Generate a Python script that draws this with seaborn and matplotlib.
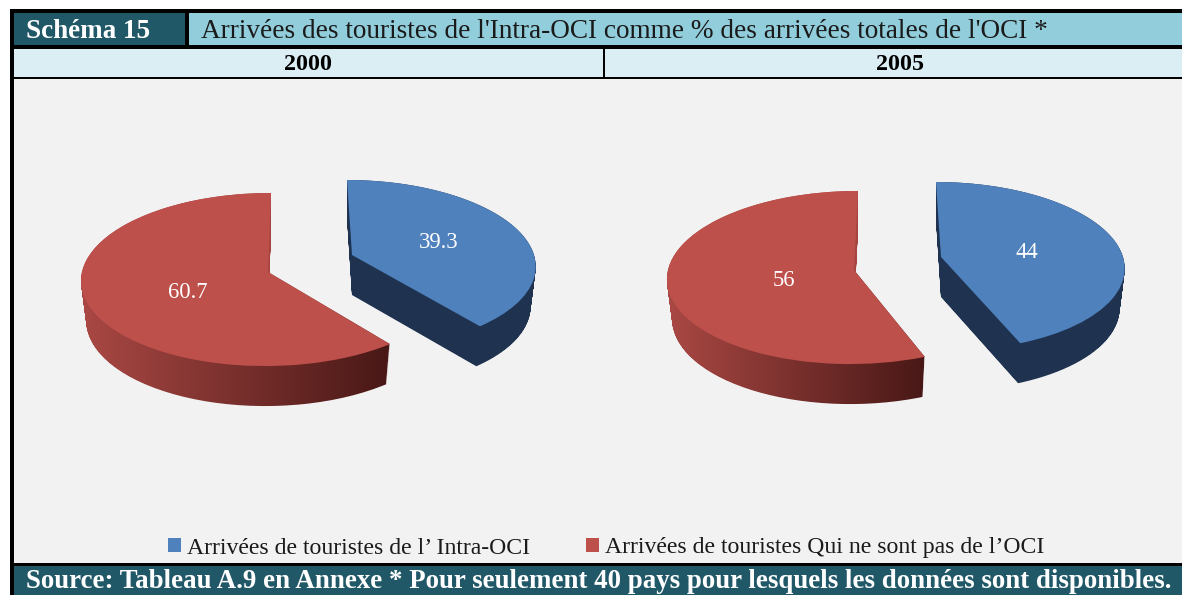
import numpy as np
import matplotlib
matplotlib.use("Agg")
import matplotlib.pyplot as plt
import seaborn as sns
from matplotlib.patches import Rectangle, Patch
from matplotlib.path import Path
from matplotlib.transforms import Transform, Affine2D

# ---- data ----
years = ["2000", "2005"]
intra_oci = [39.3, 44]
non_oci = [60.7, 56]
series_labels = ["Arrivées de touristes de l’ Intra-OCI",
                 "Arrivées de touristes Qui ne sont pas de l’OCI"]
badge = "Schéma 15"
title = "Arrivées des touristes de l'Intra-OCI comme % des arrivées totales de l'OCI *"
source = "Source: Tableau A.9 en Annexe * Pour seulement 40 pays pour lesquels les données sont disponibles."

# ---- style / layout (pixels) ----
W, H = 1182, 595
BLUE, RED = "#4F81BD", "#BE504C"
TEAL, CYAN, PALE, PANEL = "#215868", "#92CDDC", "#DAEEF3", "#F2F2F2"
SERIF = "Liberation Serif"
# apex pixel of each wedge and lean of its straight edge
layout = {
    "2000": {"blue": (352, 255, -5), "red": (268, 272, 3),
             "lab_blue": (439, 243), "lab_red": (188, 292), "head": 308},
    "2005": {"blue": (941, 257, -5), "red": (854, 270, 4),
             "lab_blue": (1027, 252), "lab_red": (784, 280), "head": 900},
}
# horizontal radius, vertical radius, perspective strength
disc = {"blue": (182.0, 83.25, 0.11), "red": (186.0, 85.9, 0.0867)}
DEPTH = 40

sns.set_theme(style="white")
plt.rcParams["font.family"] = [SERIF, "DejaVu Sans"]
palette = sns.color_palette([BLUE, RED])


class Projection(Transform):
    """Maps a unit pie wedge onto the tilted disc, in pixel coordinates."""
    input_dims = output_dims = 2

    def __init__(self, apex, shape, drop=0.0, shrink=1.0):
        super().__init__()
        self.apex, self.disc_shape, self.drop, self.shrink = apex, shape, drop, shrink

    def transform_non_affine(self, v):
        ax_, ay_, lean = self.apex
        rx, ry, pk = self.disc_shape
        v = np.asarray(v, float)
        f = 1.0 / (1.0 + pk * v[:, 1])
        x = (rx * v[:, 0] * f + lean * v[:, 1]) * self.shrink
        y = -ry * v[:, 1] * f
        return np.column_stack([ax_ + x, ay_ + y + self.drop])


def draw_side(ax, wedge, apex, shape, left_rgb, right_rgb, side_light):
    ay_ = apex[1]
    polys = wedge.get_path().to_polygons(Affine2D().scale(300), closed_only=True)
    unit = np.vstack(polys) / 300.0
    stack = []
    for t in np.linspace(0, 1, DEPTH + 1):
        pr = Projection(apex, shape, t * DEPTH, 1 - 0.028 * t)
        stack.append(Path(pr.transform_non_affine(unit), closed=True))
    clip = Path.make_compound_path(*stack)
    x0, y0 = clip.vertices.min(axis=0)
    x1, y1 = clip.vertices.max(axis=0)
    nx, ny = int(x1 - x0) + 2, int(y1 - y0) + 2
    ramp = np.linspace(0, 1, nx)[None, :, None]
    img = np.tile(np.array(left_rgb) * (1 - ramp) + np.array(right_rgb) * ramp, (ny, 1, 1))
    img[: max(0, int(ay_ - y0) + 2)] = side_light
    im = ax.imshow(img / 255.0, extent=(x0, x0 + nx, y0 + ny, y0), aspect="auto",
                   zorder=2, interpolation="bilinear")
    im.set_clip_path(clip, transform=ax.transData)


fig = plt.figure(figsize=(W / 100, H / 100), dpi=100, facecolor="white")
ax = fig.add_axes([0, 0, 1, 1])

for year, a, b in zip(years, intra_oci, non_oci):
    cfg = layout[year]
    wedges, _ = ax.pie([a, b], colors=palette, startangle=90, counterclock=False,
                       wedgeprops=dict(linewidth=0, zorder=3))
    for wedge, key in zip(wedges, ["blue", "red"]):
        apex = cfg[key]
        wedge.set_transform(Projection(apex, disc[key]) + ax.transData)
        if key == "blue":
            draw_side(ax, wedge, apex, disc[key], (31, 51, 80), (31, 51, 80), (31, 51, 80))
        else:
            draw_side(ax, wedge, apex, disc[key], (170, 72, 68), (72, 24, 22), (165, 68, 64))
    for val, pos in zip([a, b], [cfg["lab_blue"], cfg["lab_red"]]):
        ax.text(*pos, f"{val:g}", color="white", fontsize=16.3, ha="center", va="center", zorder=5)
    ax.text(cfg["head"], 65, year, fontsize=17.3, fontweight="bold", color="black",
            ha="center", va="center", zorder=5)


def rect(x0, y0, x1, y1, color, z=0.5):
    ax.add_patch(Rectangle((x0, y0), x1 - x0, y1 - y0, facecolor=color, edgecolor="none", zorder=z))


rect(10, 9, W, H, "black", 0.1)
rect(14, 13, 185, 45, TEAL)
rect(189, 13, W, 45, CYAN)
rect(14, 49, 603, 77, PALE)
rect(605, 49, W, 77, PALE)
rect(14, 79, W, 563, PANEL)
rect(14, 566, W, H, TEAL)

ax.text(26, 31, badge, color="white", fontsize=19.5, fontweight="bold", va="center", zorder=5)
ax.text(201, 31, title, color="#1a1a1a", fontsize=19.65, va="center", zorder=5)
ax.text(26, 582, source, color="white", fontsize=19.4, fontweight="bold", va="center", zorder=5)

handles = [Patch(facecolor=c, edgecolor="none") for c in palette]
ax.legend(handles, series_labels, ncols=2, frameon=False, loc="center",
          bbox_to_anchor=(606, 548), bbox_transform=ax.transData,
          fontsize=17.1, handlelength=0.55, handleheight=0.55, handletextpad=0.25,
          columnspacing=2.35, borderpad=0, labelcolor="#1a1a1a").set_zorder(6)

ax.set_aspect("auto")
ax.set_xlim(0, W)
ax.set_ylim(H, 0)
ax.set_axis_off()
fig.savefig("out.png", dpi=100, facecolor="white")
